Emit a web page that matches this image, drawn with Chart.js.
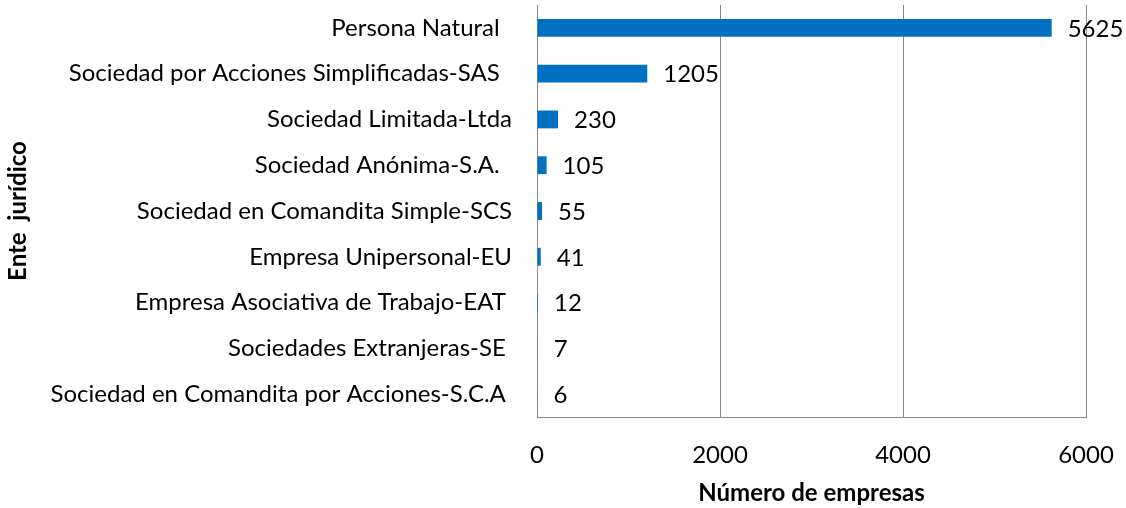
<!DOCTYPE html>
<html>
<head>
<meta charset="utf-8">
<script src="https://cdn.jsdelivr.net/npm/chart.js@4"></script>
<style>
  html, body { margin: 0; padding: 0; background: #fff; }
  #wrap { width: 1126px; height: 508px; }
</style>
</head>
<body>
<div id="wrap"><canvas id="entesChart"></canvas></div>
<script>
// Chart data
const categories = [
    'Persona Natural  ',
    'Sociedad por Acciones Simplificadas-SAS  ',
    'Sociedad Limitada-Ltda',
    'Sociedad Anónima-S.A.  ',
    'Sociedad en Comandita Simple-SCS',
    'Empresa Unipersonal-EU',
    'Empresa Asociativa de Trabajo-EAT ',
    'Sociedades Extranjeras-SE ',
    'Sociedad en Comandita por Acciones-S.C.A '
];
const empresas = [5625, 1205, 230, 105, 55, 41, 12, 7, 6];
const xTicks = [0, 2000, 4000, 6000];

const fontFamily = 'Lato, "Open Sans", sans-serif';

// Draws the value to the right of each bar
const valueLabels = {
    id: 'valueLabels',
    afterDatasetsDraw(chart) {
        const ctx = chart.ctx;
        const meta = chart.getDatasetMeta(0);
        ctx.save();
        ctx.font = '24px ' + fontFamily;
        ctx.fillStyle = '#000';
        ctx.textBaseline = 'middle';
        ctx.textAlign = 'left';
        meta.data.forEach((bar, i) => {
            ctx.fillText(String(empresas[i]), bar.x + 16, bar.y + 1);
        });
        ctx.restore();
    }
};

const ctx = document.getElementById('entesChart').getContext('2d');
new Chart(ctx, {
    type: 'bar',
    data: {
        labels: categories,
        datasets: [{
            label: 'Número de empresas',
            data: empresas,
            backgroundColor: '#0070C0',
            borderWidth: 0,
            barPercentage: 0.39,
            categoryPercentage: 1.0
        }]
    },
    options: {
        indexAxis: 'y',
        responsive: true,
        maintainAspectRatio: false,
        animation: false,
        layout: {
            padding: { left: 4, right: 40, top: 5, bottom: 0 }
        },
        plugins: {
            legend: { display: false },
            tooltip: { enabled: false }
        },
        scales: {
            x: {
                min: 0,
                max: 6000,
                afterBuildTicks: function(scale) {
                    scale.ticks = xTicks.map(v => ({ value: v }));
                },
                grid: {
                    color: '#8c8c8c',
                    lineWidth: 1,
                    drawTicks: false
                },
                border: { display: true, color: '#8c8c8c' },
                ticks: {
                    color: '#000',
                    padding: 24,
                    font: { family: fontFamily, size: 24 },
                    callback: function(value) {
                        return String(value);
                    }
                },
                title: {
                    display: true,
                    text: 'Número de empresas',
                    color: '#000',
                    padding: { top: 10, bottom: 0 },
                    font: { family: fontFamily, size: 24, weight: 'bold' }
                },
                afterFit: function(scale) {
                    scale.height = 91;
                    scale.paddingLeft = 0;
                    scale.paddingRight = 0;
                }
            },
            y: {
                grid: { display: false, drawTicks: false },
                border: { display: false },
                ticks: {
                    color: '#000',
                    padding: 25,
                    font: { family: fontFamily, size: 24 }
                },
                title: {
                    display: true,
                    text: 'Ente  jurídico',
                    color: '#000',
                    padding: { top: 0, bottom: 0 },
                    font: { family: fontFamily, size: 24, weight: 'bold' }
                },
                afterFit: function(scale) {
                    scale.width = 533;
                    scale.paddingTop = 0;
                    scale.paddingBottom = 0;
                }
            }
        }
    },
    plugins: [valueLabels]
});
</script>
</body>
</html>
